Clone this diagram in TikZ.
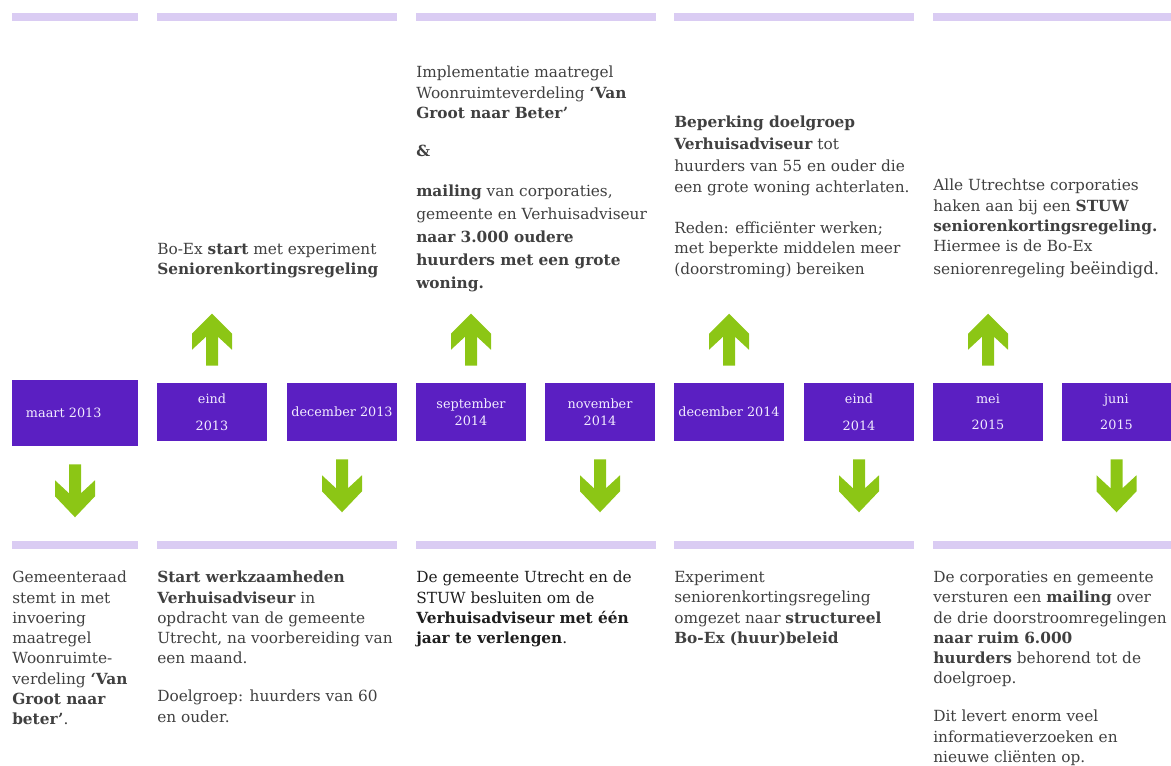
\documentclass[tikz,border=0pt]{standalone}
\usepackage{fontspec}
\setmainfont{DejaVu Serif}
\usetikzlibrary{calc}

\definecolor{tlpurple}{HTML}{5B1FC2}
\definecolor{tlgreen}{HTML}{8CC615}
\definecolor{tllav}{HTML}{DACCF3}
\definecolor{tlgrey}{HTML}{404040}
\definecolor{tldark}{HTML}{1E1E1E}
\definecolor{tlboxtext}{HTML}{F2ECFF}

\tikzset{
    datebox/.style={fill=tlpurple, text=tlboxtext, minimum width=82.5pt, minimum height=43.5pt,
        inner sep=0pt, align=center, font=\fontsize{9.6}{12.75}\selectfont},
    wide/.style={font=\fontsize{9.6}{20}\selectfont},
    note/.style={anchor=north west, inner sep=0pt, align=left, text=tlgrey,
        font=\fontsize{11.5}{15.2}\selectfont},
    uparr/.pic={\fill[tlgreen] (-6, 0) -- (-6, -29) -- (-20, -16) -- (-20, -32) -- (0, -52)
        -- (20, -32) -- (20, -16) -- (6, -29) -- (6, 0) -- cycle;},
    downarr/.pic={\fill[tlgreen] (-6, 0) -- (-6, 29) -- (-20, 16) -- (-20, 32) -- (0, 53)
        -- (20, 32) -- (20, 16) -- (6, 29) -- (6, 0) -- cycle;},
}

\begin{document}
\begin{tikzpicture}[x=0.75pt, y=-0.75pt]
    \useasboundingbox (0, 0) rectangle (1171, 765);

    % lavender rules over and under each column
    \foreach \a/\b in {12/138, 157/397, 416/656, 674/914, 933/1171} {
        \fill[tllav] (\a, 13) rectangle (\b, 21);
        \fill[tllav] (\a, 541) rectangle (\b, 549);
    }

    % the time line
    \node[datebox, minimum width=94.5pt, minimum height=49.5pt, text width=73.5pt,
        inner xsep=10.5pt, align=left] at (75, 413) (maart13) {maart 2013};
    \node[datebox, wide] at (212, 412)    (eind13) {eind\\2013};
    \node[datebox]       at (342, 412)    (dec13)  {december 2013};
    \node[datebox]       at (471, 412)    (sep14)  {september\\2014};
    \node[datebox]       at (600, 412)    (nov14)  {november\\2014};
    \node[datebox]       at (729, 412)    (dec14)  {december 2014};
    \node[datebox, wide] at (859, 412)    (eind14) {eind\\2014};
    \node[datebox, wide] at (988, 412)    (mei15)  {mei\\2015};
    \node[datebox, wide] at (1116.5, 412) (jun15)  {juni\\2015};

    \foreach \n in {eind13, sep14, dec14, mei15}
        \pic at ($(\n.north)+(0, -17)$) {uparr};
    \foreach \n in {maart13, dec13, nov14, eind14, jun15}
        \pic at ($(\n.south)+(0, 18)$) {downarr};

    % notes above
    \node[note] at (157, 243) (bo) {Bo-Ex \textbf{start} met experiment\\\textbf{Seniorenkortingsregeling}};
    \node[note] at (416, 66) (impl) {Implementatie maatregel\\Woonruimteverdeling \textbf{‘Van}\\
        \textbf{Groot naar Beter’}\\[13.3pt]\textbf{\&}\\[14.8pt]\textbf{mailing} van corporaties,\\[2pt]
        gemeente en Verhuisadviseur\\[2pt]\textbf{naar 3.000 oudere}\\[2pt]
        \textbf{huurders met een grote}\\[2pt]\textbf{woning.}};
    \node[note] at (674, 116) (beperk) {\textbf{Beperking doelgroep}\\[1pt]\textbf{Verhuisadviseur} tot\\[1pt]
        huurders van 55 en ouder die\\[1pt]een grote woning achterlaten.\\[15.5pt]
        Reden: efficiënter werken;\\met beperkte middelen meer\\(doorstroming) bereiken};
    \node[note] at (933, 179) (stuw) {Alle Utrechtse corporaties\\haken aan bij een \textbf{STUW}\\
        \textbf{seniorenkortingsregeling.}\\Hiermee is de Bo-Ex\\[2pt]
        seniorenregeling {\fontsize{12.5}{15}\selectfont beëindigd.}};

    % notes below
    \node[note] at (12, 571) (raad) {Gemeenteraad\\stemt in met\\invoering\\maatregel\\Woonruimte-\\
        verdeling \textbf{‘Van}\\\textbf{Groot naar}\\\textbf{beter’}.};
    \node[note] at (157, 571) (werk) {\textbf{Start werkzaamheden}\\\textbf{Verhuisadviseur} in\\
        opdracht van de gemeente\\Utrecht, na voorbereiding van\\een maand.\\[13.3pt]
        Doelgroep: huurders van 60\\en ouder.};
    \node[note, text=tldark] at (416, 571) (verleng) {De gemeente Utrecht en de\\STUW besluiten om de\\
        \textbf{Verhuisadviseur met één}\\\textbf{jaar te verlengen}.};
    \node[note] at (674, 571) (omgezet) {Experiment\\seniorenkortingsregeling\\
        omgezet naar \textbf{structureel}\\\textbf{Bo-Ex (huur)beleid}};
    \node[note] at (933, 571) (mailing) {De corporaties en gemeente\\versturen een \textbf{mailing} over\\
        de drie doorstroomregelingen\\\textbf{naar ruim 6.000}\\\textbf{huurders} behorend tot de\\
        doelgroep.\\[13.3pt]Dit levert enorm veel\\informatieverzoeken en\\nieuwe cliënten op.};
\end{tikzpicture}
\end{document}
